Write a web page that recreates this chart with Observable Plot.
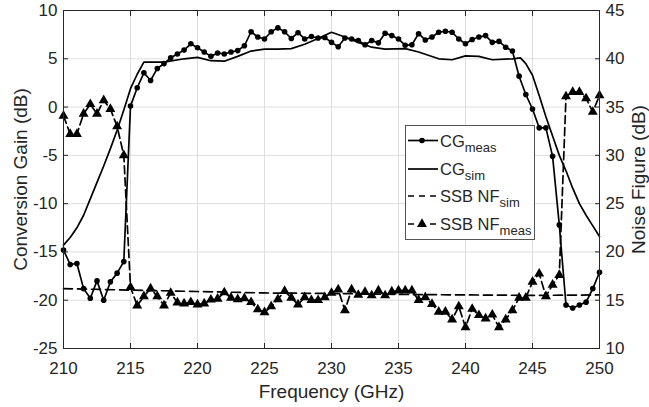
<!DOCTYPE html>
<html><head><meta charset="utf-8">
<script src="https://cdn.jsdelivr.net/npm/d3@7"></script>
<script src="https://cdn.jsdelivr.net/npm/@observablehq/plot@0.6"></script>
<style>
body{margin:0;background:#fff;}
#wrap{position:relative;width:649px;height:407px;}
</style></head><body>
<div id="wrap"></div>
<script>
// ---- data ----
const freq = [210,210.5,211,211.5,212,212.5,213,213.5,214,214.5,215,215.5,216,216.5,217,217.5,218,218.5,219,219.5,
  220,220.5,221,221.5,222,222.5,223,223.5,224,224.5,225,225.5,226,226.5,227,227.5,228,228.5,229,229.5,
  230,230.5,231,231.5,232,232.5,233,233.5,234,234.5,235,235.5,236,236.5,237,237.5,238,238.5,239,239.5,
  240,240.5,241,241.5,242,242.5,243,243.5,244,244.5,245,245.5,246,246.5,247,247.5,248,248.5,249,249.5,250];
const cgMeas = [-14.8,-16.3,-16.2,-18.8,-19.8,-18.0,-20.0,-18.1,-17.2,-16.0,
  0.1,2.0,3.55,2.75,4.0,4.5,5.1,5.5,5.9,6.55,
  6.15,5.7,5.25,5.6,5.5,5.7,5.85,6.35,7.8,7.25,
  7.05,7.8,8.2,7.8,7.1,7.7,7.05,7.3,7.15,7.2,
  6.7,6.25,7.15,7.05,6.9,6.45,6.9,6.65,7.65,7.4,
  7.05,6.4,6.45,7.6,6.95,7.25,7.75,7.85,7.75,7.05,
  6.55,7.0,7.25,7.4,6.7,6.8,6.2,5.8,3.2,1.3,
  -0.2,-2.15,-2.15,-5.1,-12.2,-20.5,-20.8,-20.5,-20.2,-18.8,
  -17.1];
const nfMeas = [34.1,32.2,32.2,34.3,35.3,34.3,35.7,34.8,33.0,30.0,
  16.35,14.45,15.4,16.2,15.4,14.45,15.75,14.75,14.65,14.8,
  14.55,14.65,15.05,15.15,15.8,15.25,15.1,15.2,14.8,14.05,
  13.75,14.35,15.1,15.95,15.25,14.55,15.3,15.0,15.0,15.3,
  15.75,16.1,13.95,16.1,15.55,15.85,15.5,16.0,15.5,15.9,
  16.0,16.0,16.0,15.0,15.3,14.6,13.8,13.8,13.0,14.35,
  12.2,14.1,13.45,13.1,13.5,12.2,13.0,13.95,15.25,15.25,
  16.9,17.75,15.4,16.6,17.6,36.1,36.55,36.55,35.9,34.5,
  36.2];
const simFreq = [210,210.5,211,211.5,212,212.5,213,213.5,214,214.5,215,215.5,216,217.5,219,220,221,222,223,224,225,226,227,228,229,230,231,232,233,234,235.5,236.5,238,239,240,241,242,243.5,244.1,244.5,245,245.5,246,246.5,247,247.5,248,248.5,249,249.5,250];
const cgSim = [-14.3,-13.5,-12.5,-11.2,-9.5,-7.8,-6.1,-4.3,-2.4,-0.3,1.9,3.4,4.65,4.65,5.0,5.15,4.8,4.75,5.25,5.8,6.0,6.0,6.05,6.5,7.1,7.75,7.25,6.7,6.2,6.0,6.05,5.7,5.0,4.9,5.3,5.25,4.9,5.0,5.1,4.5,3.3,1.2,-1.0,-3.0,-5.0,-6.6,-8.4,-10.0,-11.2,-12.3,-13.4];
const nfSimFreq = [210,215,220,225,230,235,240,245,250];
const nfSim = [16.2,16.05,15.9,15.75,15.7,15.6,15.55,15.5,15.55];
const xTicks = [210,215,220,225,230,235,240,245,250];
const yTicksLeft = [-25,-20,-15,-10,-5,0,5,10];
const nfOffset = 35; // right axis (NF) = left axis (CG) + 35
const legendItems = [["CG","meas"],["CG","sim"],["SSB NF","sim"],["SSB NF","meas"]];

const cgMeasData = freq.map((f,i)=>({f, v:cgMeas[i]}));
const nfMeasData = freq.map((f,i)=>({f, v:nfMeas[i]}));
const cgSimData = simFreq.map((f,i)=>({f, v:cgSim[i]}));
const nfSimData = nfSimFreq.map((f,i)=>({f, v:nfSim[i]}));

const FONT = '"Liberation Sans", Arial, Helvetica, sans-serif';
const AX = "#262626";

const chart = Plot.plot({
  width: 649, height: 407,
  marginLeft: 63, marginRight: 50, marginTop: 10, marginBottom: 59,
  x: {domain: [210, 250]},
  y: {domain: [-25, 10]},
  style: {fontFamily: FONT, fontSize: "17px", color: AX, background: "white", overflow: "visible"},
  marks: [
    Plot.gridX({ticks: xTicks, stroke: "#dedede", strokeOpacity: 1, strokeWidth: 1}),
    Plot.gridY({ticks: yTicksLeft, stroke: "#dedede", strokeOpacity: 1, strokeWidth: 1}),
    Plot.line(nfSimData, {x: "f", y: d => d.v - nfOffset, stroke: "black", strokeWidth: 1.7, strokeDasharray: "9,5"}),
    Plot.line(nfMeasData, {x: "f", y: d => d.v - nfOffset, stroke: "black", strokeWidth: 1.7, strokeDasharray: "8,4"}),
    Plot.line(cgSimData, {x: "f", y: "v", stroke: "black", strokeWidth: 1.7, curve: "linear"}),
    Plot.line(cgMeasData, {x: "f", y: "v", stroke: "black", strokeWidth: 1.7}),
    Plot.dot(cgMeasData, {x: "f", y: "v", r: 2.8, fill: "black", stroke: "none"}),
    Plot.dot(nfMeasData, {x: "f", y: d => d.v - nfOffset, symbol: "triangle", r: 3.7, fill: "black", stroke: "none"}),
    Plot.frame({stroke: AX, strokeWidth: 1}),
    // inward ticks
    Plot.axisX({ticks: xTicks, anchor: "bottom", tickSize: -5, tickFormat: () => "", label: null, stroke: AX}),
    Plot.axisX({ticks: xTicks, anchor: "top", tickSize: -5, tickFormat: () => "", label: null, stroke: AX}),
    Plot.axisY({ticks: yTicksLeft, anchor: "left", tickSize: -5, tickFormat: () => "", label: null, stroke: AX}),
    Plot.axisY({ticks: yTicksLeft, anchor: "right", tickSize: -5, tickFormat: () => "", label: null, stroke: AX}),
    // tick labels
    Plot.axisX({ticks: xTicks, anchor: "bottom", tickSize: 0, tickPadding: 13, label: null, fontSize: 17, fill: AX, tickFormat: d => String(d)}),
    Plot.axisY({ticks: yTicksLeft, anchor: "left", tickSize: 0, tickPadding: 6, label: null, fontSize: 17, fill: AX, tickFormat: d => String(d)}),
    Plot.axisY({ticks: yTicksLeft, anchor: "right", tickSize: 0, tickPadding: 6, label: null, fontSize: 17, fill: AX, tickFormat: d => String(d + nfOffset)}),
    // axis titles
    Plot.text(["Frequency (GHz)"], {text: d => d, frameAnchor: "bottom", textAnchor: "middle", lineAnchor: "middle", dy: 43, fontSize: 19, fill: AX}),
    Plot.text(["Conversion Gain (dB)"], {text: d => d, frameAnchor: "left", textAnchor: "middle", lineAnchor: "middle", rotate: -90, dx: -43, fontSize: 19, fill: AX}),
    Plot.text(["Noise Figure (dB)"], {text: d => d, frameAnchor: "right", textAnchor: "middle", lineAnchor: "middle", rotate: -90, dx: 39, fontSize: 19, fill: AX})
  ]
});
document.getElementById("wrap").append(chart);

// legend
const svg = d3.select(chart);
const lg = svg.append("g").attr("transform", "translate(405,125)").attr("text-anchor", "start");
lg.append("rect").attr("x", 0.5).attr("y", 0.5).attr("width", 129).attr("height", 114)
  .attr("fill", "white").attr("stroke", "#555").attr("stroke-width", 1);
const rowY = [15.5, 44, 71, 99];
legendItems.forEach((it, i) => {
  const y = rowY[i];
  const g = lg.append("g");
  const dashed = i >= 2;
  g.append("line").attr("x1", 3).attr("x2", 33).attr("y1", y).attr("y2", y)
    .attr("stroke", "black").attr("stroke-width", 1.7)
    .attr("stroke-dasharray", dashed ? "6,5" : null);
  if (i === 0) g.append("circle").attr("cx", 17).attr("cy", y).attr("r", 2.8).attr("fill", "black");
  if (i === 3) g.append("path").attr("d", d3.symbol(d3.symbolTriangle, 3.7*3.7*Math.PI)()).attr("transform", `translate(17,${y})`).attr("fill", "black");
  const t = g.append("text").attr("x", 35).attr("y", y + 6).attr("font-family", FONT).attr("font-size", 16.5).attr("fill", AX).attr("text-anchor", "start");
  t.append("tspan").text(it[0]);
  t.append("tspan").attr("dy", 5).attr("font-size", 13).text(it[1]);
});
</script>
</body></html>
